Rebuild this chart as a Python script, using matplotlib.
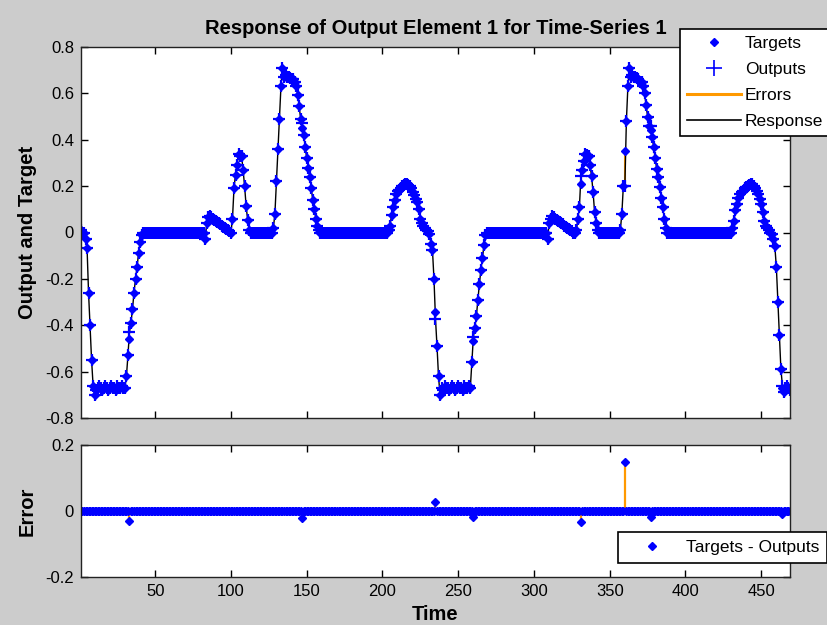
import numpy as np
import matplotlib
matplotlib.use("Agg")
import matplotlib.pyplot as plt
from matplotlib.lines import Line2D

plt.rcParams['font.family'] = ['Liberation Sans', 'DejaVu Sans']

# target values, one per time step (t = 1 .. 469)
targets = [
    0.01, 0.00, 0.00, -0.03, -0.065, -0.26, -0.40, -0.55, -0.66, -0.70,       # 1
    -0.68, -0.67, -0.66, -0.67, -0.68, -0.67, -0.66, -0.67, -0.68, -0.67,      # 11
    -0.66, -0.67, -0.67, -0.68, -0.66, -0.67, -0.67, -0.66, -0.67, -0.67,      # 21
    -0.62, -0.53, -0.46, -0.39, -0.33, -0.26, -0.20, -0.15, -0.09, -0.04,      # 31
    -0.01, 0, 0, 0, 0, 0, 0, 0, 0, 0,                                          # 41
    0, 0, 0, 0, 0, 0, 0, 0, 0, 0,                                              # 51
    0, 0, 0, 0, 0, 0, 0, 0, 0, 0,                                              # 61
    0, 0, 0, 0, 0, 0, 0, 0, 0, 0,                                              # 71
    0, 0, -0.03, 0.04, 0.065, 0.07, 0.065, 0.06, 0.055, 0.05,                  # 81
    0.045, 0.04, 0.035, 0.03, 0.025, 0.02, 0.015, 0.01, 0.005, 0.0,            # 91
    0.06, 0.19, 0.25, 0.29, 0.34, 0.33, 0.33, 0.27, 0.20, 0.115,               # 101
    0.055, 0.01, 0, 0, 0, 0, 0, 0, 0, 0,                                       # 111
    0, 0, 0, 0, 0, 0, 0, 0.02, 0.08, 0.22,                                     # 121
    0.36, 0.49, 0.63, 0.71, 0.67, 0.68, 0.67, 0.67, 0.665, 0.66,               # 131
    0.66, 0.65, 0.63, 0.595, 0.545, 0.49, 0.45, 0.42, 0.37, 0.32,              # 141
    0.28, 0.24, 0.19, 0.14, 0.10, 0.06, 0.03, 0.01, 0, 0,                      # 151
    0, 0, 0, 0, 0, 0, 0, 0, 0, 0,                                              # 161
    0, 0, 0, 0, 0, 0, 0, 0, 0, 0,                                              # 171
    0, 0, 0, 0, 0, 0, 0, 0, 0, 0,                                              # 181
    0, 0, 0, 0, 0, 0, 0, 0, 0, 0,                                              # 191
    0, 0, 0, 0.01, 0.03, 0.075, 0.11, 0.14, 0.165, 0.18,                       # 201
    0.185, 0.19, 0.20, 0.205, 0.21, 0.21, 0.205, 0.20, 0.19, 0.175,            # 211
    0.16, 0.145, 0.13, 0.10, 0.06, 0.04, 0.03, 0.02, 0.01, 0.005,              # 221
    -0.005, -0.05, -0.075, -0.20, -0.345, -0.49, -0.62, -0.70, -0.67, -0.68,   # 231
    -0.66, -0.67, -0.67, -0.68, -0.67, -0.66, -0.67, -0.68, -0.67, -0.66,      # 241
    -0.67, -0.67, -0.68, -0.66, -0.67, -0.67, -0.66, -0.67, -0.56, -0.47,      # 251
    -0.41, -0.36, -0.29, -0.22, -0.16, -0.11, -0.054, -0.01, 0, 0,             # 261
    0, 0, 0, 0, 0, 0, 0, 0, 0, 0,                                              # 271
    0, 0, 0, 0, 0, 0, 0, 0, 0, 0,                                              # 281
    0, 0, 0, 0, 0, 0, 0, 0, 0, 0,                                              # 291
    0, 0, 0, 0, 0, 0, 0, 0, -0.03, 0.04,                                       # 301
    0.06, 0.07, 0.065, 0.06, 0.055, 0.05, 0.045, 0.04, 0.035, 0.03,            # 311
    0.025, 0.02, 0.015, 0.01, 0.005, 0.0, 0.0, 0.01, 0.06, 0.11,               # 321
    0.21, 0.27, 0.31, 0.34, 0.335, 0.33, 0.29, 0.245, 0.175, 0.09,             # 331
    0.04, 0.01, 0, 0, 0, 0, 0, 0, 0, 0,                                        # 341
    0, 0, 0, 0, 0, 0, 0.01, 0.08, 0.20, 0.35,                                  # 351
    0.48, 0.63, 0.71, 0.67, 0.68, 0.67, 0.67, 0.665, 0.66, 0.65,               # 361
    0.65, 0.63, 0.60, 0.55, 0.50, 0.46, 0.44, 0.41, 0.37, 0.32,                # 371
    0.275, 0.24, 0.195, 0.15, 0.11, 0.06, 0.02, 0, 0, 0,                       # 381
    0, 0, 0, 0, 0, 0, 0, 0, 0, 0,                                              # 391
    0, 0, 0, 0, 0, 0, 0, 0, 0, 0,                                              # 401
    0, 0, 0, 0, 0, 0, 0, 0, 0, 0,                                              # 411
    0, 0, 0, 0, 0, 0, 0, 0, 0, 0,                                              # 421
    0.02, 0.05, 0.095, 0.125, 0.15, 0.165, 0.175, 0.18, 0.19, 0.195,           # 431
    0.20, 0.205, 0.21, 0.21, 0.20, 0.19, 0.18, 0.165, 0.145, 0.125,            # 441
    0.09, 0.05, 0.03, 0.02, 0.01, 0.0, -0.005, -0.03, -0.06, -0.15,            # 451
    -0.30, -0.44, -0.59, -0.67, -0.69, -0.67, -0.66, -0.67, -0.68,             # 461
]

# time steps with a visible error (targets - outputs)
err_steps = [33, 147, 235, 260, 331, 360, 377, 464]
err_values = [-0.03, -0.022, 0.027, -0.018, -0.034, 0.149, -0.018, -0.01]

x_ticks = [50, 100, 150, 200, 250, 300, 350, 400, 450]
y_ticks_top = [-0.8, -0.6, -0.4, -0.2, 0, 0.2, 0.4, 0.6, 0.8]
y_ticks_err = [-0.2, 0, 0.2]

ORANGE = '#ff9900'
BLUE = '#0000ff'

t = np.arange(1, len(targets) + 1)
targ = np.array(targets, dtype=float)
errors = np.zeros_like(targ)
for s, v in zip(err_steps, err_values):
    errors[s - 1] = v
outputs = targ - errors

fig = plt.figure(figsize=(8.28, 6.25), dpi=100, facecolor='#cccccc')
ax1 = fig.add_axes([0.0978, 0.3312, 0.8563, 0.5936])
ax2 = fig.add_axes([0.0978, 0.0768, 0.8563, 0.2112])

# top panel: response
ax1.vlines(t, outputs, targ, color=ORANGE, linewidth=1.5)
ax1.plot(t, outputs, color='black', linewidth=1)
ax1.plot(t, targ, linestyle='none', marker='D', markersize=3.8, color=BLUE)
ax1.plot(t, outputs, linestyle='none', marker='+', markersize=8,
         markeredgewidth=1.6, color=BLUE)

ax1.set_xlim(1, len(targets))
ax1.set_ylim(-0.8, 0.8)
ax1.set_xticks(x_ticks)
ax1.set_xticklabels([])
ax1.set_yticks(y_ticks_top)
ax1.set_yticklabels(['%g' % v for v in y_ticks_top])
ax1.set_ylabel('Output and Target', fontsize=14.5, fontweight='bold', labelpad=6)
ax1.set_title('Response of Output Element 1 for Time-Series 1',
              fontsize=14.5, fontweight='bold', pad=9)

handles = [
    Line2D([], [], linestyle='none', marker='D', markersize=4, color=BLUE),
    Line2D([], [], linestyle='none', marker='+', markersize=11, markeredgewidth=1.2, color=BLUE),
    Line2D([], [], color=ORANGE, linewidth=2.2),
    Line2D([], [], color='black', linewidth=1.2),
]
leg1 = fig.legend(handles, ['Targets', 'Outputs', 'Errors', 'Response'],
                  loc='upper left', bbox_to_anchor=(0.821, 0.953), fontsize=12.5,
                  fancybox=False, framealpha=1, edgecolor='black',
                  handlelength=3.1, labelspacing=0.62, borderpad=0.4,
                  handletextpad=0.25, borderaxespad=0)
leg1.get_frame().set_linewidth(1.2)

# bottom panel: error
ax2.vlines(t, 0, errors, color=ORANGE, linewidth=1.6)
ax2.plot(t, errors, linestyle='none', marker='D', markersize=3.8, color=BLUE)
ax2.set_xlim(1, len(targets))
ax2.set_ylim(-0.2, 0.2)
ax2.set_xticks(x_ticks)
ax2.set_yticks(y_ticks_err)
ax2.set_yticklabels(['%g' % v for v in y_ticks_err])
ax2.set_ylabel('Error', fontsize=14.5, fontweight='bold', labelpad=6)
ax2.set_xlabel('Time', fontsize=14.5, fontweight='bold', labelpad=4)

leg2 = fig.legend([Line2D([], [], linestyle='none', marker='D', markersize=4, color=BLUE)],
                  ['Targets - Outputs'], loc='upper left',
                  bbox_to_anchor=(0.746, 0.149), fontsize=12.5,
                  fancybox=False, framealpha=1, edgecolor='black',
                  handlelength=3.0, borderpad=0.45, handletextpad=0.5,
                  borderaxespad=0)
leg2.get_frame().set_linewidth(1.2)

for ax in (ax1, ax2):
    ax.set_facecolor('white')
    ax.tick_params(direction='in', top=True, right=True, length=5, width=1,
                   labelsize=12, pad=5)
    for sp in ax.spines.values():
        sp.set_color('#222222')
        sp.set_linewidth(1)

fig.savefig('out.png', dpi=100, facecolor=fig.get_facecolor())
